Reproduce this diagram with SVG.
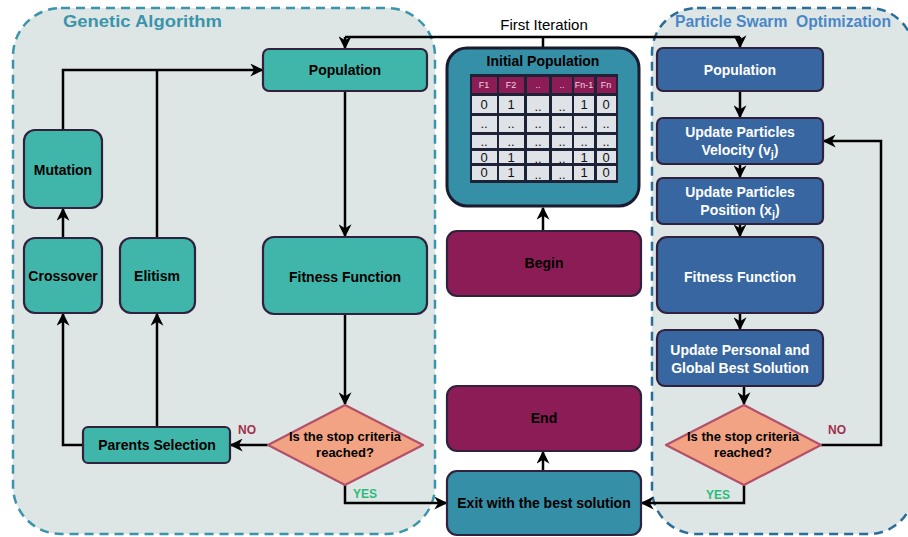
<svg xmlns="http://www.w3.org/2000/svg" width="908" height="537" viewBox="0 0 908 537">
  <defs>
    <marker id="arrow" viewBox="0 0 10 10" refX="9" refY="5" markerWidth="5.2" markerHeight="5.2" orient="auto" markerUnits="strokeWidth">
      <path d="M0,0 L10,5 L0,10 L3,5 z" fill="#000"/>
    </marker>
    <style>
      .panel { fill: #dde6e5; stroke-width: 2.5; stroke-dasharray: 9 6; }
      .title { font-family: "Liberation Sans", Arial, sans-serif; font-weight: bold; font-size: 17px; }
      .ga { fill: #40b6ab; stroke: #30223f; stroke-width: 2.2; }
      .pso { fill: #3766a0; stroke: #30223f; stroke-width: 2.2; }
      .term { fill: #8c1c55; stroke: #30223f; stroke-width: 2.2; }
      .mid { fill: #358fa7; stroke: #30223f; stroke-width: 2.2; }
      .dia { fill: #f1a383; stroke: #b4506a; stroke-width: 2.2; }
      .lbl { font-family: "Liberation Sans", Arial, sans-serif; font-weight: bold; font-size: 14px; text-anchor: middle; fill: #000; }
      .wlbl { font-family: "Liberation Sans", Arial, sans-serif; font-weight: bold; font-size: 14px; text-anchor: middle; fill: #fff; }
      .dlbl { font-family: "Liberation Sans", Arial, sans-serif; font-weight: bold; font-size: 13px; text-anchor: middle; fill: #000; }
      .no { font-family: "Liberation Sans", Arial, sans-serif; font-weight: bold; font-size: 12px; fill: #a3304f; }
      .yes { font-family: "Liberation Sans", Arial, sans-serif; font-weight: bold; font-size: 12px; fill: #2dbb7a; }
      .edge { fill: none; stroke: #000; stroke-width: 2.5; }
      .cell { fill: #dfe3e8; }
      .head { fill: #8c1c55; }
      .ctxt { font-family: "Liberation Sans", Arial, sans-serif; font-size: 13px; text-anchor: middle; fill: #111; }
      .htxt { font-family: "Liberation Sans", Arial, sans-serif; font-size: 9px; text-anchor: middle; fill: #f3d6e4; }
    </style>
  </defs>

  <!-- background panels -->
  <rect class="panel" x="13" y="8" width="422" height="526" rx="48" stroke="#3a94ab"/>
  <rect class="panel" x="652" y="8" width="262" height="526" rx="45" stroke="#2a6d98"/>
  <text class="title" x="63" y="27" fill="#3a94ab" textLength="159" lengthAdjust="spacingAndGlyphs">Genetic Algorithm</text>
  <text class="title" x="675" y="27" fill="#4a86c8" xml:space="preserve" textLength="216" lengthAdjust="spacingAndGlyphs">Particle Swarm  Optimization</text>

  <!-- connectors -->
  <g id="connectors">
    <path class="edge" d="M543,48 V37"/>
    <path class="edge" d="M345,37 H740"/>
    <path class="edge" d="M345,37 V48" marker-end="url(#arrow)"/>
    <path class="edge" d="M740,37 V47" marker-end="url(#arrow)"/>
    <path class="edge" d="M543,231 V208" marker-end="url(#arrow)"/>
    <path class="edge" d="M345,91 V236" marker-end="url(#arrow)"/>
    <path class="edge" d="M345,314 V404" marker-end="url(#arrow)"/>
    <path class="edge" d="M268,445 H231" marker-end="url(#arrow)"/>
    <path class="edge" d="M83,445 H63 V314" marker-end="url(#arrow)"/>
    <path class="edge" d="M157,427 V314" marker-end="url(#arrow)"/>
    <path class="edge" d="M63,238 V209" marker-end="url(#arrow)"/>
    <path class="edge" d="M63,130 V70 H262" marker-end="url(#arrow)"/>
    <path class="edge" d="M157,238 V70"/>
    <path class="edge" d="M345,485 V503 H446" marker-end="url(#arrow)"/>
    <path class="edge" d="M543,471 V452" marker-end="url(#arrow)"/>
    <path class="edge" d="M740,91 V117" marker-end="url(#arrow)"/>
    <path class="edge" d="M740,164 V177" marker-end="url(#arrow)"/>
    <path class="edge" d="M740,224 V236" marker-end="url(#arrow)"/>
    <path class="edge" d="M740,313 V329" marker-end="url(#arrow)"/>
    <path class="edge" d="M744,386 V404" marker-end="url(#arrow)"/>
    <path class="edge" d="M821,445 H881 V141 H824" marker-end="url(#arrow)"/>
    <path class="edge" d="M744,485 V503 H642" marker-end="url(#arrow)"/>
  </g>
  <text x="544" y="30" font-family="Liberation Sans, Arial, sans-serif" font-size="15" text-anchor="middle">First Iteration</text>

  <!-- genetic algorithm nodes -->
  <g id="ga-population">
    <rect class="ga" x="263" y="49" width="164" height="42" rx="6"/>
    <text class="lbl" x="345" y="75">Population</text>
  </g>
  <g id="ga-mutation">
    <rect class="ga" x="24" y="130" width="78" height="78" rx="11"/>
    <text class="lbl" x="63" y="175">Mutation</text>
  </g>
  <g id="ga-crossover">
    <rect class="ga" x="24" y="238" width="78" height="75" rx="11"/>
    <text class="lbl" x="63" y="281">Crossover</text>
  </g>
  <g id="ga-elitism">
    <rect class="ga" x="120" y="238" width="75" height="75" rx="11"/>
    <text class="lbl" x="157" y="281">Elitism</text>
  </g>
  <g id="ga-fitness">
    <rect class="ga" x="263" y="237" width="164" height="77" rx="11"/>
    <text class="lbl" x="345" y="282">Fitness Function</text>
  </g>
  <g id="ga-selection">
    <rect class="ga" x="83" y="427" width="147" height="36" rx="5"/>
    <text class="lbl" x="157" y="450">Parents Selection</text>
  </g>
  <g id="ga-stop">
    <polygon class="dia" points="345,405 423,445 345,485 268,445" stroke-linejoin="round"/>
    <text class="dlbl" x="345" y="441">Is the stop criteria</text>
    <text class="dlbl" x="345" y="457">reached?</text>
  </g>
  <text class="no" x="238" y="434">NO</text>
  <text class="yes" x="353" y="498">YES</text>

  <!-- centre column -->
  <g id="initial-population">
    <rect x="447" y="48" width="192" height="158" rx="20" fill="#358fa7" stroke="#1b1b30" stroke-width="3"/>
    <text class="lbl" x="543" y="66">Initial Population</text>
    <rect x="470" y="74" width="148" height="109" fill="#1e2236"/>
    <g>
      <rect class="head" x="472" y="77" width="25" height="16"/>
      <rect class="head" x="499" y="77" width="25" height="16"/>
      <rect class="head" x="527" y="77" width="22" height="16"/>
      <rect class="head" x="552" y="77" width="20" height="16"/>
      <rect class="head" x="574" y="77" width="20" height="16"/>
      <rect class="head" x="597" y="77" width="19" height="16"/>
      <text class="htxt" x="484" y="88">F1</text>
      <text class="htxt" x="511" y="88">F2</text>
      <text class="htxt" x="538" y="88">..</text>
      <text class="htxt" x="562" y="88">..</text>
      <text class="htxt" x="584" y="88">Fn-1</text>
      <text class="htxt" x="606" y="88">Fn</text>
    </g>
    <g>
      <rect class="cell" x="472" y="96" width="25" height="17"/>
      <rect class="cell" x="499" y="96" width="25" height="17"/>
      <rect class="cell" x="527" y="96" width="22" height="17"/>
      <rect class="cell" x="552" y="96" width="20" height="17"/>
      <rect class="cell" x="574" y="96" width="20" height="17"/>
      <rect class="cell" x="597" y="96" width="19" height="17"/>
      <rect class="cell" x="472" y="116" width="25" height="16"/>
      <rect class="cell" x="499" y="116" width="25" height="16"/>
      <rect class="cell" x="527" y="116" width="22" height="16"/>
      <rect class="cell" x="552" y="116" width="20" height="16"/>
      <rect class="cell" x="574" y="116" width="20" height="16"/>
      <rect class="cell" x="597" y="116" width="19" height="16"/>
      <rect class="cell" x="472" y="135" width="25" height="13"/>
      <rect class="cell" x="499" y="135" width="25" height="13"/>
      <rect class="cell" x="527" y="135" width="22" height="13"/>
      <rect class="cell" x="552" y="135" width="20" height="13"/>
      <rect class="cell" x="574" y="135" width="20" height="13"/>
      <rect class="cell" x="597" y="135" width="19" height="13"/>
      <rect class="cell" x="472" y="151" width="25" height="12"/>
      <rect class="cell" x="499" y="151" width="25" height="12"/>
      <rect class="cell" x="527" y="151" width="22" height="12"/>
      <rect class="cell" x="552" y="151" width="20" height="12"/>
      <rect class="cell" x="574" y="151" width="20" height="12"/>
      <rect class="cell" x="597" y="151" width="19" height="12"/>
      <rect class="cell" x="472" y="166" width="25" height="14"/>
      <rect class="cell" x="499" y="166" width="25" height="14"/>
      <rect class="cell" x="527" y="166" width="22" height="14"/>
      <rect class="cell" x="552" y="166" width="20" height="14"/>
      <rect class="cell" x="574" y="166" width="20" height="14"/>
      <rect class="cell" x="597" y="166" width="19" height="14"/>
    </g>
    <g>
      <text class="ctxt" x="484" y="109">0</text>
      <text class="ctxt" x="511" y="109">1</text>
      <text class="ctxt" x="538" y="111">..</text>
      <text class="ctxt" x="562" y="111">..</text>
      <text class="ctxt" x="584" y="109">1</text>
      <text class="ctxt" x="606" y="109">0</text>
      <text class="ctxt" x="484" y="128">..</text>
      <text class="ctxt" x="511" y="128">..</text>
      <text class="ctxt" x="538" y="128">..</text>
      <text class="ctxt" x="562" y="128">..</text>
      <text class="ctxt" x="584" y="128">..</text>
      <text class="ctxt" x="606" y="128">..</text>
      <text class="ctxt" x="484" y="146">..</text>
      <text class="ctxt" x="511" y="146">..</text>
      <text class="ctxt" x="538" y="146">..</text>
      <text class="ctxt" x="562" y="146">..</text>
      <text class="ctxt" x="584" y="146">..</text>
      <text class="ctxt" x="606" y="146">..</text>
      <text class="ctxt" x="484" y="162">0</text>
      <text class="ctxt" x="511" y="162">1</text>
      <text class="ctxt" x="538" y="163">..</text>
      <text class="ctxt" x="562" y="163">..</text>
      <text class="ctxt" x="584" y="162">1</text>
      <text class="ctxt" x="606" y="162">0</text>
      <text class="ctxt" x="484" y="177">0</text>
      <text class="ctxt" x="511" y="177">1</text>
      <text class="ctxt" x="538" y="179">..</text>
      <text class="ctxt" x="562" y="179">..</text>
      <text class="ctxt" x="584" y="177">1</text>
      <text class="ctxt" x="606" y="177">0</text>
    </g>
  </g>
  <g id="begin">
    <rect class="term" x="447" y="231" width="194" height="65" rx="10"/>
    <text class="lbl" x="544" y="268">Begin</text>
  </g>
  <g id="end">
    <rect class="term" x="447" y="386" width="194" height="65" rx="10"/>
    <text class="lbl" x="544" y="423">End</text>
  </g>
  <g id="exit">
    <rect class="mid" x="447" y="471" width="194" height="64" rx="10"/>
    <text class="lbl" x="544" y="508">Exit with the best solution</text>
  </g>

  <!-- particle swarm nodes -->
  <g id="pso-population">
    <rect class="pso" x="657" y="48" width="166" height="43" rx="6"/>
    <text class="wlbl" x="740" y="75">Population</text>
  </g>
  <g id="pso-velocity">
    <rect class="pso" x="657" y="118" width="166" height="46" rx="6"/>
    <text class="wlbl" x="740" y="137">Update Particles</text>
    <text class="wlbl" x="740" y="155">Velocity (v<tspan font-size="11" dy="3">j</tspan><tspan dy="-3">)</tspan></text>
  </g>
  <g id="pso-position">
    <rect class="pso" x="657" y="178" width="166" height="46" rx="6"/>
    <text class="wlbl" x="740" y="197">Update Particles</text>
    <text class="wlbl" x="740" y="215">Position (x<tspan font-size="11" dy="3">j</tspan><tspan dy="-3">)</tspan></text>
  </g>
  <g id="pso-fitness">
    <rect class="pso" x="657" y="237" width="166" height="76" rx="10"/>
    <text class="wlbl" x="740" y="282">Fitness Function</text>
  </g>
  <g id="pso-best">
    <rect class="pso" x="657" y="330" width="166" height="56" rx="8"/>
    <text class="wlbl" x="740" y="355">Update Personal and</text>
    <text class="wlbl" x="740" y="373">Global Best Solution</text>
  </g>
  <g id="pso-stop">
    <polygon class="dia" points="744,405 821,445 744,485 666,445" stroke-linejoin="round"/>
    <text class="dlbl" x="743" y="441">Is the stop criteria</text>
    <text class="dlbl" x="743" y="457">reached?</text>
  </g>
  <text class="no" x="828" y="434">NO</text>
  <text class="yes" x="706" y="499">YES</text>
</svg>
